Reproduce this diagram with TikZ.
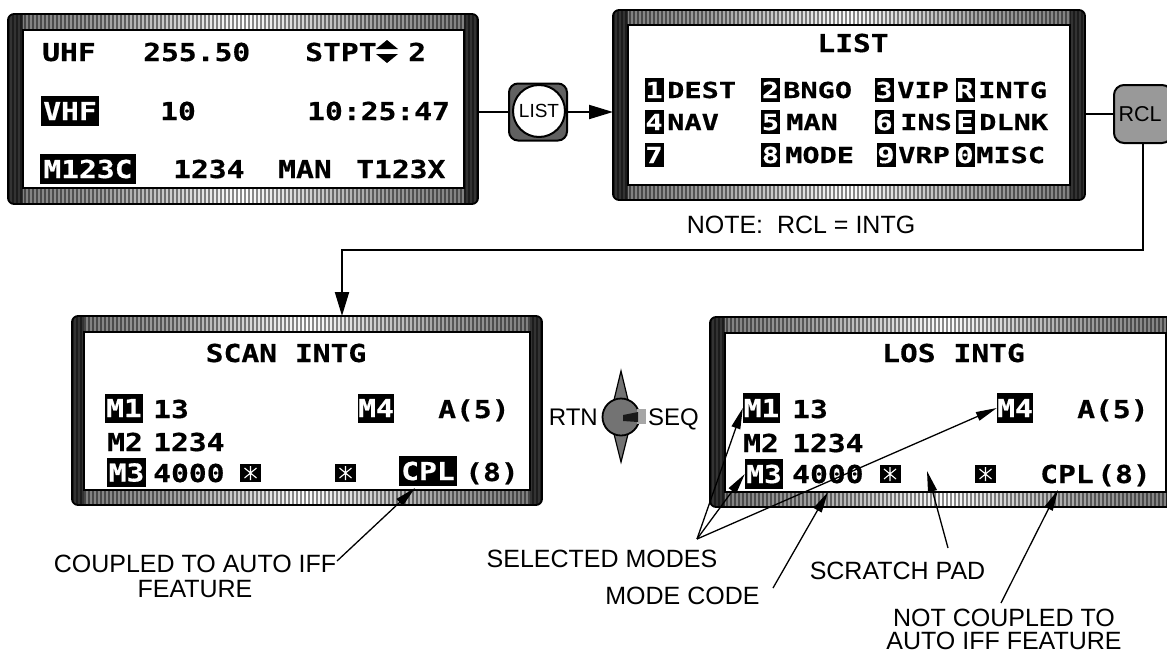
\documentclass[tikz,border=0pt]{standalone}
\usepackage{fontspec}
\setmainfont{Liberation Sans}
\newfontfamily\dispA{DejaVu Sans Mono}[FakeStretch=1.2, BoldFeatures={FakeBold=0.5}]
\newfontfamily\dispB{DejaVu Sans Mono}[FakeStretch=1.3, BoldFeatures={FakeBold=0.5}]
\usetikzlibrary{arrows.meta}
\pgfdeclarehorizontalshading{bez}{100bp}{color(0bp)=(black!90); color(12bp)=(black!70); color(35bp)=(black!38); color(50bp)=(white); color(65bp)=(black!38); color(88bp)=(black!70); color(100bp)=(black!90)}
\newcommand\bezel[8]{%
  \begin{scope}
    \clip[rounded corners=6pt] (#1,#2) rectangle (#3,#4);
    \shade[shading=bez] (#1,#2) rectangle (#3,#4);
    \fill[black!80] (#1,#2) rectangle (#5,#4);
    \fill[black!80] (#7,#2) rectangle (#3,#4);
    \pgfmathsetmacro\bzA{#1+1}\pgfmathsetmacro\bzB{#1+5}
    \foreach \s in {\bzA,\bzB,...,#3} \draw[black,opacity=.45,line width=1.6pt] (\s,#2) -- (\s,#4);
  \end{scope}
  \fill[white,draw=black,line width=1.2pt] (#5,#6) rectangle (#7,#8);
  \draw[black,line width=1.8pt,rounded corners=6pt] (#1,#2) rectangle (#3,#4);
}
\newcommand\starbox[3]{%
  \node[fill=black,minimum width=21,minimum height=18,inner sep=0pt] (#1) at (#2,#3) {};
  \draw[white,line width=1.1pt] (#2,#3-7) -- (#2,#3+7) (#2-6,#3-5) -- (#2+6,#3+5) (#2-6,#3+5) -- (#2+6,#3-5);
}
\tikzset{
  lbl/.style={font=\fontsize{25}{25}\selectfont, inner sep=0pt, text height=18pt, text depth=0pt},
  lblm/.style={font=\fontsize{25}{25}\selectfont, inner sep=0pt, align=center},
  dA/.style={font=\dispA\bfseries\fontsize{24.7}{26}\selectfont, inner sep=0pt, text height=18pt, text depth=0pt, anchor=west},
  dB/.style={font=\dispB\bfseries\fontsize{22}{24}\selectfont, inner sep=0pt, text height=16pt, text depth=0pt, anchor=west},
  inv/.style={fill=black, text=white, anchor=center},
  conn/.style={line width=2pt, draw=black},
  bigarrow/.style={-{Triangle[length=24pt,width=14pt]}},
  callout/.style={line width=1.3pt, -{Triangle[length=21pt,width=9pt]}},
}
\begin{document}
\begin{tikzpicture}[x=1pt,y=-1pt]
\useasboundingbox (0,0) rectangle (1167,656);
\clip (0,0) rectangle (1167,656);
\fill[white] (0,0) rectangle (1167,656);

% ---------------- top-left display
\bezel{8}{14}{478}{204}{23}{30}{464}{188}
\node[dA] (uhf) at (42,52) {UHF};
\node[dA] (ufreq) at (143,52) {255.50};
\node[dA] (stpt) at (305,52) {STPT};
\fill (376,49) -- (398,49) -- (387,40) -- cycle;
\fill (376,54) -- (398,54) -- (387,63) -- cycle;
\node[dA] (stptn) at (408,52) {2};
\node[dA,inv,minimum width=58,minimum height=30] (vhf) at (70,111) {VHF};
\node[dA] (vch) at (160,111) {10};
\node[dA] (time) at (307,111) {10:25:47};
\node[dA,inv,minimum width=96,minimum height=30] (m123c) at (88,169) {M123C};
\node[dA] (code) at (173,169) {1234};
\node[dA] (man) at (278,169) {MAN};
\node[dA] (tacan) at (356,169) {T123X};

% ---------------- top-right display (LIST)
\bezel{613}{10}{1085}{200}{628}{25}{1070}{185}
\node[dA,anchor=center] (listt) at (853,43) {LIST};
\foreach \k/\c/\y/\w in {k1/1/90/654, k2/2/90/770.5, k3/3/90/884, kR/R/90/965,
                         k4/4/122/654, k5/5/122/770.5, k6/6/122/884, kE/E/122/965,
                         k7/7/155/654, k8/8/155/770.5, k9/9/155/886, k0/0/155/965}
  \node[dB,inv,minimum width=19,minimum height=24] (\k) at (\w,\y) {\c};
\node[dB] (dest) at (667,90) {DEST};
\node[dB] (bngo) at (783,90) {BNGO};
\node[dB] (vip) at (897,90) {VIP};
\node[dB] (intg) at (978,90) {INTG};
\node[dB] (nav) at (667,122) {NAV};
\node[dB] (manl) at (786,122) {MAN};
\node[dB] (ins) at (900,122) {INS};
\node[dB] (dlnk) at (979,122) {DLNK};
\node[dB] (mode) at (785,155) {MODE};
\node[dB] (vrp) at (898,155) {VRP};
\node[dB] (misc) at (976,155) {MISC};

% ---------------- LIST button
\node[draw=black,line width=2pt,fill=black!62,rounded corners=9pt,minimum width=58,minimum height=57,inner sep=0pt] (listb) at (538,112) {};
\node[circle,draw=black,line width=2pt,fill=white,minimum size=52,inner sep=0pt,font=\fontsize{19}{19}\selectfont] (listc) at (539,111) {LIST};
\coordinate (tlR) at (478,112);
\coordinate (trL) at (613,112);
\draw[conn] (tlR) -- (listb.west);
\draw[conn,bigarrow] (listb.east) -- (trL);

% ---------------- RCL button
\coordinate (trR) at (1085,114);
\node[draw=black,line width=2pt,fill=black!40,rounded corners=10pt,minimum width=58,minimum height=58,inner sep=0pt] (rcl) at (1143,114) {};
\node[font=\fontsize{21.5}{21.5}\selectfont,inner sep=0pt] (rclt) at (1140,114) {RCL};
\draw[conn] (trR) -- (rcl.west);
\node[lbl] (note) at (801,224) {NOTE:\ \ RCL = INTG};
\coordinate (bend) at (342,250);
\coordinate (blTop) at (342,316);
\draw[conn,bigarrow] (rcl.south) |- (bend) -- (blTop);

% ---------------- bottom-left display (SCAN INTG)
\bezel{72}{316}{542}{505}{84}{332}{530}{490}
\node[dA,anchor=center] (scan) at (286,353) {SCAN INTG};
\node[dA,inv,minimum width=38,minimum height=29] (m1L) at (124,408) {M1};
\node[dA] (m1Lv) at (153,409) {13};
\node[dA,inv,minimum width=36,minimum height=29] (m4L) at (376,408) {M4};
\node[dA] (m4Lv) at (438,409) {A(5)};
\node[dA] (m2L) at (107,442) {M2};
\node[dA] (m2Lv) at (153,442) {1234};
\node[dA,inv,minimum width=39,minimum height=29] (m3L) at (126.5,472.5) {M3};
\node[dA] (m3Lv) at (153,473) {4000};
\starbox{sL1}{250.5}{473}
\starbox{sL2}{345.5}{473}
\node[dA,inv,minimum width=58,minimum height=30] (cplL) at (428,471) {CPL};
\node[dA] (cplLv) at (465,472) {(8)};

% ---------------- bottom-right display (LOS INTG)
\bezel{710}{317}{1182}{507}{725}{333}{1166}{492}
\node[dA,anchor=center] (los) at (953.5,353) {LOS INTG};
\node[dA,inv,minimum width=37,minimum height=30] (m1R) at (761.5,408) {M1};
\node[dA] (m1Rv) at (792,409) {13};
\node[dA,inv,minimum width=36,minimum height=30] (m4R) at (1015,408) {M4};
\node[dA] (m4Rv) at (1077,409) {A(5)};
\node[dA] (m2R) at (743,443) {M2};
\node[dA] (m2Rv) at (792,443) {1234};
\node[dA,inv,minimum width=38,minimum height=30] (m3R) at (764,474) {M3};
\node[dA] (m3Rv) at (792,474) {4000};
\starbox{sR1}{890}{474}
\starbox{sR2}{985.5}{474}
\node[dA] (cplR) at (1040,474) {CPL};
\node[dA] (cplRv) at (1097,474) {(8)};

% ---------------- RTN/SEQ knob
\fill[black!55,draw=black,line width=1.2pt] (621,371) -- (628,400) -- (628,434) -- (621,462) -- (614,434) -- (614,400) -- cycle;
\node[circle,fill=black!55,draw=black,line width=1.8pt,minimum size=37,inner sep=0pt] (knob) at (621,417) {};
\fill[black!35] (637,409) rectangle (646,424);
\fill[black!90] (623,415) -- (638,412) -- (638,422) -- (623,421) -- cycle;
\node[lbl,font=\fontsize{24}{24}\selectfont,text height=17pt,anchor=east] (rtn) at (598,417) {RTN};
\node[lbl,font=\fontsize{24}{24}\selectfont,text height=17pt,anchor=west] (seq) at (648,417) {SEQ};

% ---------------- callouts
\node[lblm] (coupled) at (195,576.5) {COUPLED TO AUTO IFF\\FEATURE};
\node[lbl] (selm) at (602,558) {SELECTED MODES};
\node[lbl] (modec) at (682.5,595) {MODE CODE};
\node[lbl] (scratch) at (897.5,570) {SCRATCH PAD};
\node[lblm,font=\fontsize{25}{23}\selectfont] (notcpl) at (1004,629) {NOT COUPLED TO\\AUTO IFF FEATURE};

\coordinate (cA) at (337,561);
\coordinate (cAt) at (415,488);
\draw[callout] (cA) -- (cAt);
\coordinate (smO) at (697,539);
\draw[callout] (smO) -- (m1R.west);
\draw[callout] (smO) -- (m3R.west);
\draw[callout] (smO) -- (m4R.west);
\coordinate (mcS) at (773,588);
\coordinate (mcT) at (828,492);
\draw[callout] (mcS) -- (mcT);
\coordinate (spS) at (948,548);
\coordinate (spT) at (927,471);
\draw[callout] (spS) -- (spT);
\coordinate (ncS) at (1001,603);
\coordinate (ncT) at (1058,490);
\draw[callout] (ncS) -- (ncT);
\end{tikzpicture}
\end{document}
